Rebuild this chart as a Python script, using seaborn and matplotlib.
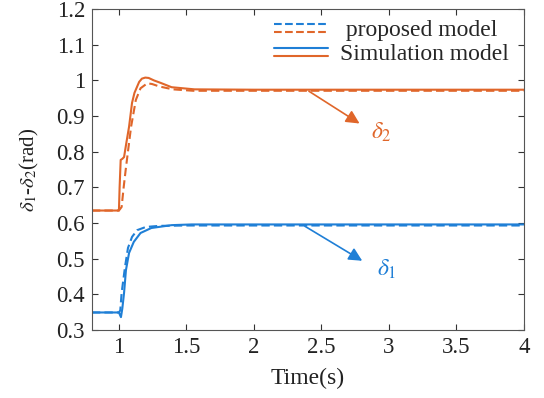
"""Rotor angle response: proposed model vs simulation model."""
import matplotlib
matplotlib.use("Agg")
import matplotlib.pyplot as plt
import seaborn as sns
from matplotlib.legend_handler import HandlerBase
from matplotlib.lines import Line2D

BLUE = "#1f7fd6"
ORANGE = "#e0662a"

# delta_2, simulation model (solid orange)
t_sim_d2 = [0.8, 1.0, 1.005, 1.013, 1.025, 1.038, 1.055, 1.075, 1.097, 1.115, 1.134, 1.15, 1.17, 1.195, 1.22, 1.26, 1.31, 1.39, 1.56, 2.0, 4.0]
y_sim_d2 = [0.635, 0.635, 0.70, 0.777, 0.78, 0.785, 0.825, 0.87, 0.937, 0.965, 0.982, 0.996, 1.005, 1.008, 1.007, 1.0, 0.993, 0.981, 0.975, 0.974, 0.974]
# delta_2, proposed model (dashed orange)
t_prop_d2 = [0.8, 1.0, 1.02, 1.035, 1.05, 1.07, 1.09, 1.125, 1.16, 1.21, 1.245, 1.30, 1.40, 1.55, 4.0]
y_prop_d2 = [0.635, 0.635, 0.645, 0.70, 0.749, 0.81, 0.87, 0.945, 0.978, 0.992, 0.99, 0.983, 0.975, 0.971, 0.971]
# delta_1, simulation model (solid blue)
t_sim_d1 = [0.8, 1.0, 1.015, 1.025, 1.038, 1.052, 1.075, 1.11, 1.16, 1.24, 1.39, 1.54, 2.0, 4.0]
y_sim_d1 = [0.349, 0.349, 0.336, 0.36, 0.404, 0.468, 0.516, 0.547, 0.572, 0.586, 0.594, 0.596, 0.596, 0.596]
# delta_1, proposed model (dashed blue)
t_prop_d1 = [0.8, 1.0, 1.01, 1.02, 1.045, 1.067, 1.097, 1.135, 1.20, 1.3, 1.5, 4.0]
y_prop_d1 = [0.349, 0.349, 0.355, 0.404, 0.477, 0.53, 0.561, 0.58, 0.589, 0.592, 0.593, 0.593]

x_ticks = [1, 1.5, 2, 2.5, 3, 3.5, 4]
x_tick_labels = ["1", "1.5", "2", "2.5", "3", "3.5", "4"]
y_ticks = [0.3, 0.4, 0.5, 0.6, 0.7, 0.8, 0.9, 1.0, 1.1, 1.2]
y_tick_labels = ["0.3", "0.4", "0.5", "0.6", "0.7", "0.8", "0.9", "1", "1.1", "1.2"]
legend_labels = [" proposed model", "Simulation model"]

DASH = (0, (4, 2))


class StackedHandler(HandlerBase):
    """Draw a tuple of line handles stacked vertically (MATLAB-like legend entry)."""

    def create_artists(self, legend, orig_handle, xdescent, ydescent, width, height, fontsize, trans):
        artists = []
        for handle, frac in zip(orig_handle, [0.75, 0.25]):
            y = height * frac - ydescent
            line = Line2D([-xdescent, width - xdescent], [y, y], color=handle.get_color(),
                          linestyle=handle.get_linestyle(), linewidth=handle.get_linewidth())
            line.set_transform(trans)
            artists.append(line)
        return artists


sns.set_theme(style="ticks")
plt.rcParams["font.family"] = ["Liberation Serif", "DejaVu Serif"]
plt.rcParams["mathtext.fontset"] = "stix"

fig = plt.figure(figsize=(5.44, 3.98), dpi=100)
ax = fig.add_axes([0.169, 0.171, 0.794, 0.806])

sns.lineplot(x=t_prop_d1, y=y_prop_d1, ax=ax, color=BLUE, linestyle=DASH, linewidth=1.5, sort=False)
sns.lineplot(x=t_prop_d2, y=y_prop_d2, ax=ax, color=ORANGE, linestyle=DASH, linewidth=1.5, sort=False)
sns.lineplot(x=t_sim_d1, y=y_sim_d1, ax=ax, color=BLUE, linewidth=1.5, sort=False)
sns.lineplot(x=t_sim_d2, y=y_sim_d2, ax=ax, color=ORANGE, linewidth=1.5, sort=False)

ax.set_xlim(0.8, 4)
ax.set_ylim(0.3, 1.2)
ax.set_xticks(x_ticks, x_tick_labels)
ax.set_yticks(y_ticks, y_tick_labels)
ax.tick_params(direction="in", top=True, right=True, length=4, width=0.8, labelsize=16.5,
               colors="#333333", labelcolor="#222222", pad=5)
for spine in ax.spines.values():
    spine.set_visible(True)
    spine.set_color("#555555")
    spine.set_linewidth(0.8)
ax.set_xlabel("Time(s)", fontsize=17, color="#222222", labelpad=7)
ax.set_ylabel(r"$\delta_1$-$\delta_2$(rad)", fontsize=15, color="#222222", labelpad=11)

ax.annotate("", xy=(2.80, 0.875), xytext=(2.39, 0.974),
            arrowprops=dict(arrowstyle="-|>", color=ORANGE, lw=1.2, mutation_scale=20))
ax.text(2.87, 0.853, r"$\delta_2$", color=ORANGE, fontsize=17, va="center")
ax.annotate("", xy=(2.82, 0.49), xytext=(2.36, 0.595),
            arrowprops=dict(arrowstyle="-|>", color=BLUE, lw=1.2, mutation_scale=20))
ax.text(2.91, 0.469, r"$\delta_1$", color=BLUE, fontsize=17, va="center")

lines = ax.get_lines()
handles = [(lines[0], lines[1]), (lines[2], lines[3])]
ax.legend(handles, legend_labels, handler_map={tuple: StackedHandler()}, loc="upper right",
          bbox_to_anchor=(0.987, 0.997), frameon=False, fontsize=17, handlelength=2.3,
          handletextpad=0.5, labelspacing=0.1, borderaxespad=0.0)

fig.savefig("out.png", dpi=100)
